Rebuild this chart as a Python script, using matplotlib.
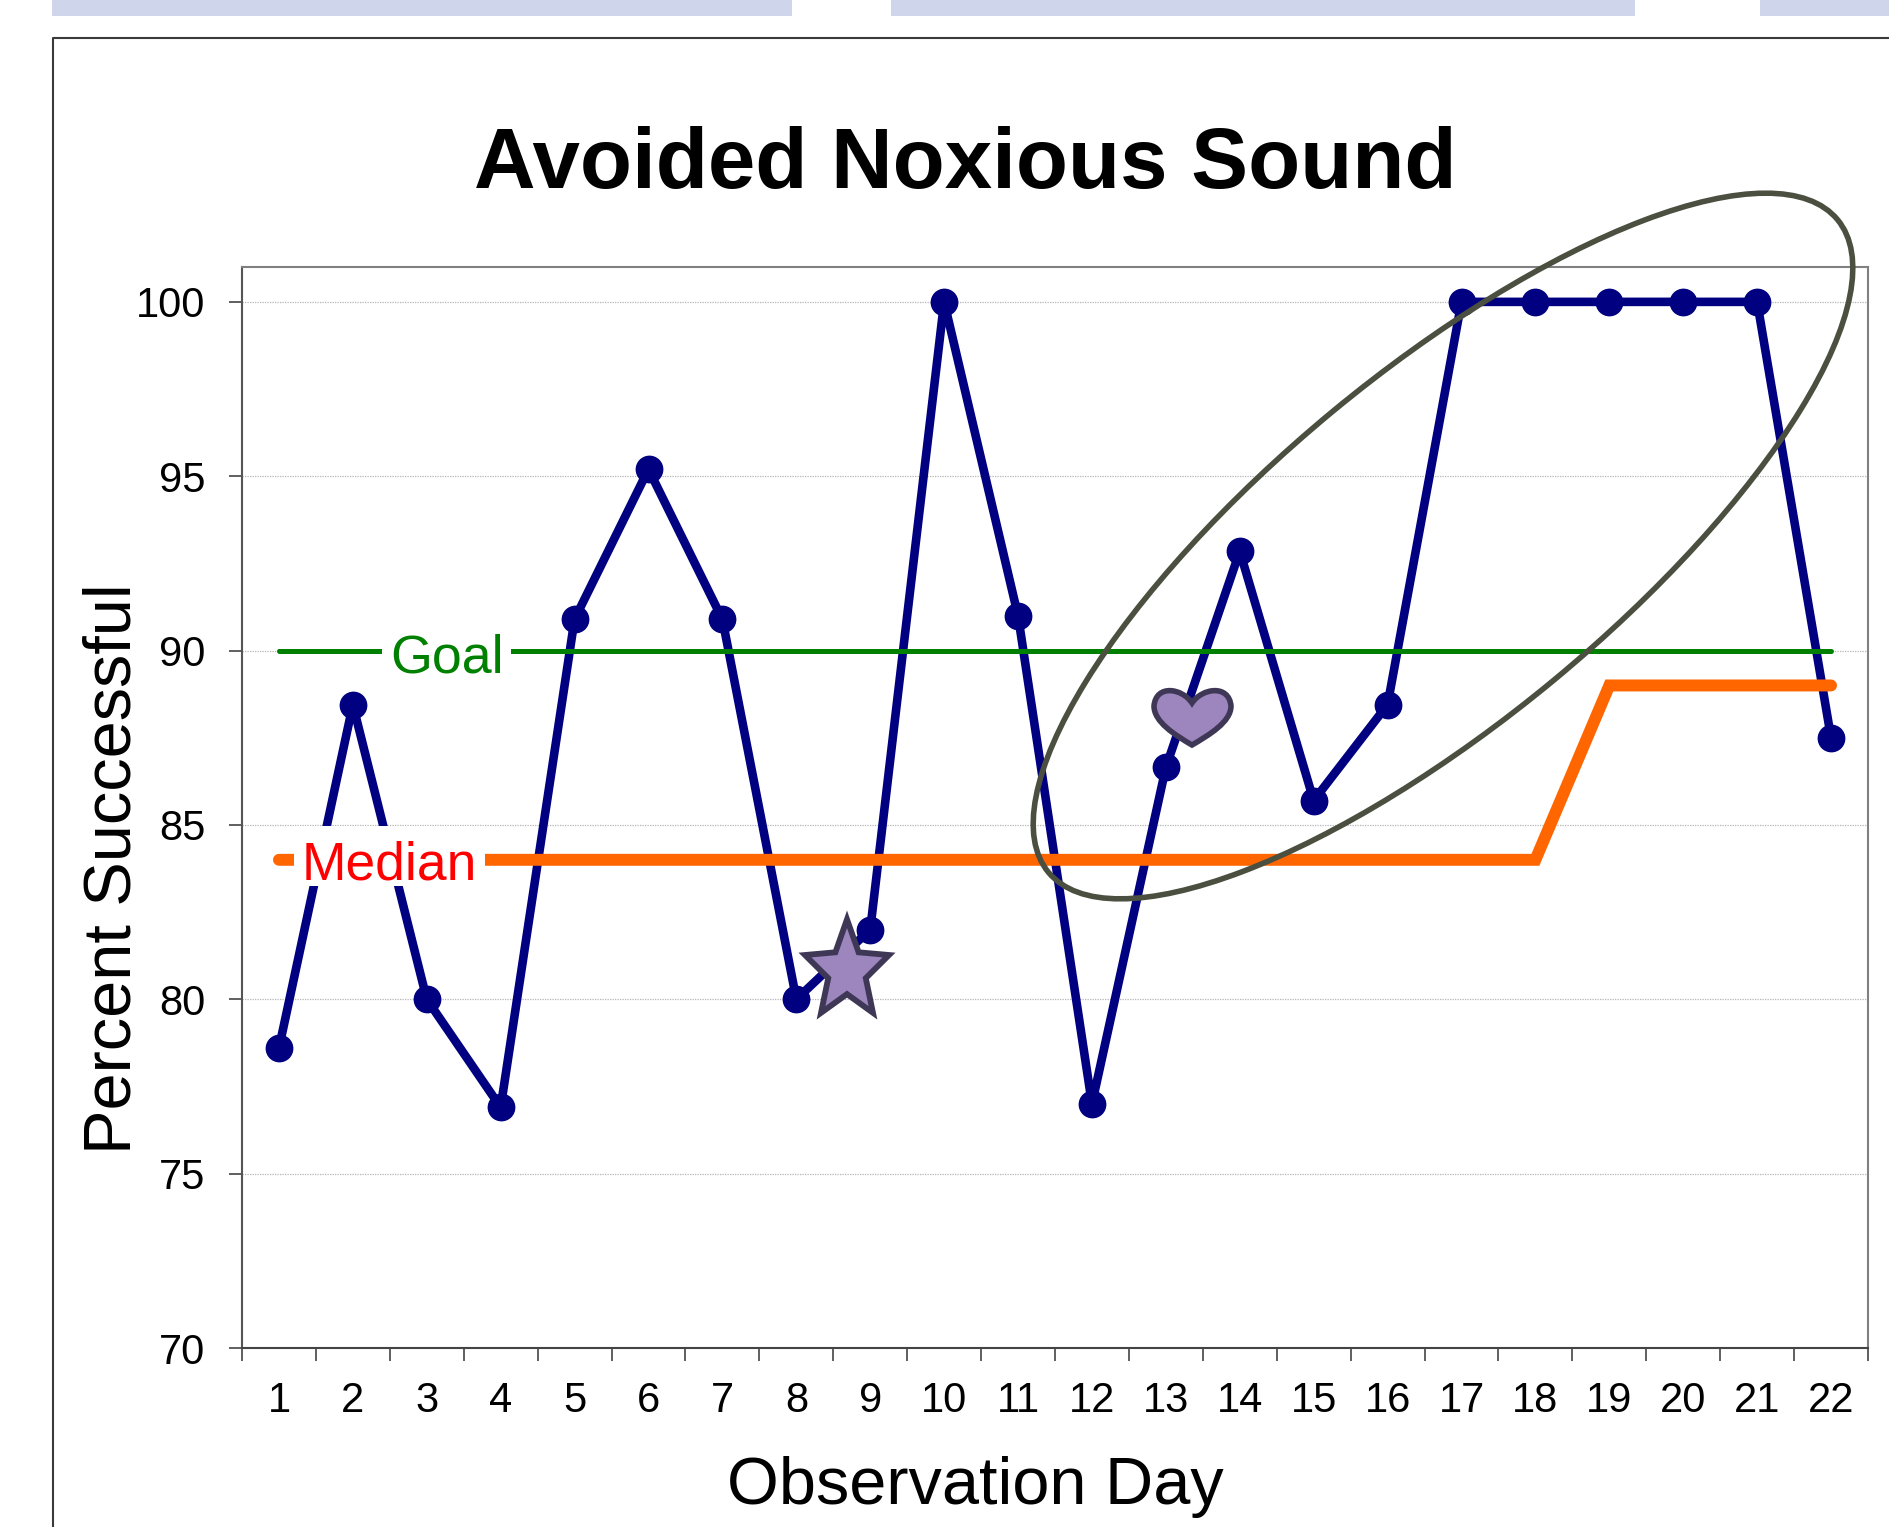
import matplotlib
matplotlib.use("Agg")
import matplotlib.pyplot as plt
from matplotlib.patches import Ellipse, PathPatch, Polygon, Rectangle
from matplotlib.path import Path
from matplotlib.transforms import Affine2D
from matplotlib.lines import Line2D
import numpy as np

days = list(range(1, 23))
percent = [78.6, 88.45, 80, 76.9, 90.9, 95.2, 90.9, 80, 82, 100, 91,
           77, 86.65, 92.85, 85.7, 88.45, 100, 100, 100, 100, 100, 87.5]
median = [84] * 18 + [89] * 4
goal = [90] * 22
y_ticks = [70, 75, 80, 85, 90, 95, 100]

NAVY = "#000080"
GREEN = "#008000"
ORANGE = "#FF6600"
PURPLE = "#9D85BE"
PURPLE_EDGE = "#3F3756"
W, H = 1890, 1527

plt.rcParams["font.family"] = ["Liberation Sans", "DejaVu Sans"]

fig = plt.figure(figsize=(W / 100, H / 100), dpi=100)
# top-left pixel coordinates, for the slide decorations only
px = Affine2D().scale(1, -1).translate(0, H)

# strip of slide tabs and the frame around the chart
for x0, x1 in [(52, 792), (891, 1635), (1760, 1890)]:
    fig.add_artist(Rectangle((x0, 0), x1 - x0, 16, transform=px, fc="#CFD5EA", ec="none"))
fig.add_artist(Line2D([53, 53, 1890], [1527, 38, 38], transform=px, color="#3A3A3A", lw=1.5))

ax = fig.add_axes([242 / W, 1 - 1348 / H, (1868 - 242) / W, (1348 - 267) / H])
ax.set_xlim(0.5, 22.5)
ax.set_ylim(70, 101)

ax.plot(days, percent, color=NAVY, lw=6.2, marker="o", ms=19, zorder=3, solid_joinstyle="round")
ax.plot([1, 2.4], [90, 89.96], color="black", lw=1.6, zorder=3.5)
ax.plot(days, goal, color=GREEN, lw=3.6, zorder=4, solid_capstyle="round")
ax.plot(days, median, color=ORANGE, lw=8.6, zorder=4, solid_capstyle="round", solid_joinstyle="miter")

# white masks behind the two line labels
ax.add_patch(Rectangle((382, 622), 129, 62, transform=px, fc="white", ec="none", zorder=4.5))
ax.add_patch(Rectangle((294, 826), 191, 60, transform=px, fc="white", ec="none", zorder=4.5))
ax.text(3.275, 89.77, "Goal", color=GREEN, fontsize=38.7, ha="center", va="center", zorder=5)
ax.text(2.495, 83.84, "Median", color="#FF0000", fontsize=38.4, ha="center", va="center", zorder=5)

ax.set_yticks(y_ticks)
ax.set_xticks(np.arange(0.5, 23, 1))
ax.set_xticklabels([])
ax.set_xticks(days, [str(d) for d in days], minor=True)
ax.tick_params(axis="y", which="major", length=9.4, width=1.2, color="#444444", labelsize=30, pad=17)
ax.tick_params(axis="x", which="major", length=9.4, width=1.2, color="#444444")
ax.tick_params(axis="x", which="minor", length=0, labelsize=30, pad=23.5)
ax.grid(axis="y", color="#B5B5B5", lw=0.9, ls=(0, (1, 1)), zorder=1)
ax.set_axisbelow(True)
ax.spines["left"].set_color("#555555")
ax.spines["bottom"].set_color("#444444")
ax.spines["top"].set_color("#808080")
ax.spines["right"].set_color("#808080")
for s in ax.spines.values():
    s.set_linewidth(1.5)

ax.set_title("Avoided Noxious Sound", fontsize=61.4, fontweight="bold", x=0.4445, y=1.065, va="baseline")
ax.set_xlabel("Observation Day", fontsize=48)
ax.xaxis.set_label_coords(0.451, -0.1)
ax.set_ylabel("Percent Successful", fontsize=48)
ax.yaxis.set_label_coords(-0.06, 0.443)

# hand drawn slide annotations: ellipse, star, heart
fig.add_artist(Ellipse((1443, 546), 1024, 348, angle=-39.6, transform=px, fc="none",
                       ec="#4A4F40", lw=4, zorder=6))

star_angles = np.deg2rad(np.arange(-90, 270, 36))
star_r = np.tile([47, 21], 5)
star_xy = np.column_stack([847 + 0.94 * star_r * np.cos(star_angles),
                           971 + 1.1 * star_r * np.sin(star_angles)])
fig.add_artist(Polygon(star_xy, closed=True, transform=px, fc=PURPLE, ec=PURPLE_EDGE,
                       lw=4.2, zorder=6, joinstyle="miter"))

heart_verts = [(1192, 703), (1182, 688), (1156, 684), (1154, 706),
               (1154, 722), (1175, 735), (1192, 745),
               (1209, 735), (1231, 722), (1231, 706),
               (1229, 684), (1202, 688), (1192, 703), (1192, 703)]
heart_codes = [Path.MOVETO] + [Path.CURVE4] * 12 + [Path.CLOSEPOLY]
fig.add_artist(PathPatch(Path(heart_verts, heart_codes), transform=px, fc=PURPLE, ec=PURPLE_EDGE,
                         lw=4, zorder=6))

fig.savefig("out.png", dpi=100)
